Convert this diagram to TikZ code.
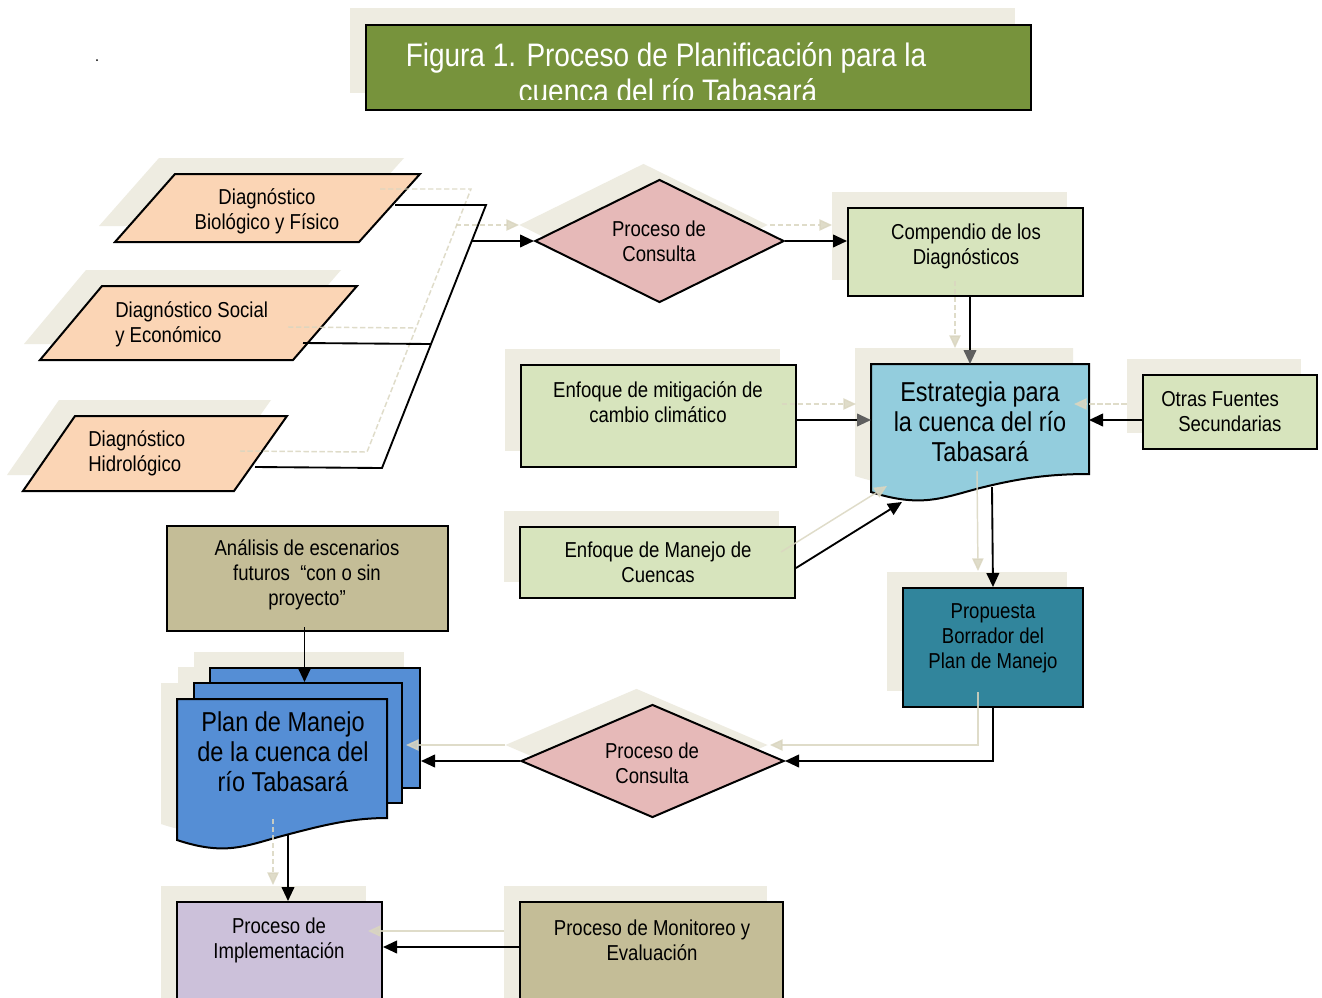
\documentclass[tikz,border=0pt]{standalone}
\usepackage{fontspec}
\setmainfont[FakeStretch=0.86]{Liberation Sans}
\usetikzlibrary{arrows.meta,shapes.geometric,shadows,calc}

\definecolor{cShade}{HTML}{EEECE1}
\definecolor{cGhost}{HTML}{DAD6C0}
\definecolor{cTitle}{HTML}{77933C}
\definecolor{cPeach}{HTML}{FBD5B5}
\definecolor{cRose}{HTML}{E6B9B8}
\definecolor{cSage}{HTML}{D7E4BD}
\definecolor{cSky}{HTML}{93CDDD}
\definecolor{cTeal}{HTML}{31859C}
\definecolor{cKhaki}{HTML}{C4BD97}
\definecolor{cCobalt}{HTML}{558ED5}
\definecolor{cLilac}{HTML}{CCC1DA}
\definecolor{cTip}{HTML}{5F5F5F}

\tikzset{
  body/.style={font=\fontsize{16.2pt}{18.75pt}\selectfont, align=center, inner sep=0pt, text=black},
  big/.style={font=\fontsize{20.5pt}{22.5pt}\selectfont, align=center, inner sep=0pt, text=black},
  titlefont/.style={font=\fontsize{24.4pt}{27.75pt}\selectfont, text=white, inner sep=0pt},
  shp/.style={draw=black, line width=1.5pt, line join=miter},
  shd/.style={general shadow={fill=cShade, shadow xshift=-12pt, shadow yshift=12pt}},
  box/.style 2 args={shp, rectangle, minimum width={#1*0.75pt}, minimum height={#2*0.75pt}, inner sep=0pt},
  wire/.style={line width=1.4pt},
  link/.style={wire, -{Triangle[length=10.5pt,width=9.5pt]}},
  linkg/.style={wire, -{Triangle[length=10.5pt,width=9.5pt,color=cTip]}},
  ghostline/.style={draw=cGhost, line width=1.1pt, opacity=0.85,
                    transform canvas={xshift=-11.25pt,yshift=12pt}},
  ghost/.style={ghostline, -{Triangle[length=9.5pt,width=8.5pt,color=cGhost]}},
  ghostdash/.style={ghost, dash pattern=on 4pt off 2pt},
}

\begin{document}
\begin{tikzpicture}[x=0.75pt,y=-0.75pt]
\useasboundingbox (0,0) rectangle (1322,997);
\clip (0,0) rectangle (1322,997);
\fill[white] (0,0) rectangle (1322,997);

% stray full stop at the top left
\fill (97,60) circle (1);

% ---------- title banner ----------
\node[box={665}{85}, fill=cTitle,
      general shadow={fill=cShade, shadow xshift=-12pt, shadow yshift=12.75pt}]
      (title) at (698.5,67.5) {};
\begin{scope}
  \clip (367,26) rectangle (1030,99.5);
  \node[titlefont, anchor=base] (title-a) at (666,66) {Figura 1. Proceso de Planificación para la};
  \node[titlefont, anchor=base] (title-b) at (668,102) {cuenca del río Tabasará};
\end{scope}

% ---------- diagnostics (parallelograms) ----------
\draw[shp, shd, fill=cPeach] (175,174) -- (420,174) -- (359,242) -- (115,242) -- cycle;
\node[body] (diag1) at (267,211.5) {Diagnóstico\\Biológico y Físico};

\draw[shp, shd, fill=cPeach] (102,286) -- (357,286) -- (293,360) -- (40,360) -- cycle;
\node[body, align=left, anchor=west] (diag2) at (115,324) {Diagnóstico Social\\y Económico};

\draw[shp, shd, fill=cPeach] (75,416) -- (287,416) -- (234,491) -- (23,491) -- cycle;
\node[body, align=left, anchor=west] (diag3) at (88,453.5) {Diagnóstico\\Hidrológico};

% ---------- first consultation and compendium ----------
\node[shp, shd, diamond, aspect=2, fill=cRose, inner sep=0pt,
      minimum width={249*0.75pt}, minimum height={123*0.75pt}] (d1) at (659.5,241) {};
\node[body] (d1-t) at (659,241) {Proceso de\\Consulta};

\node[box={235}{88}, shd, fill=cSage] (comp) at (965.5,252) {};
\node[body] (comp-t) at (966,246) {Compendio de los\\Diagnósticos};

% ---------- strategy (document shape) ----------
\draw[shp, shd, fill=cSky] (871,364) -- (1089,364) -- (1089,474)
  .. controls (1050,474) and (1020,478) .. (980,488)
  .. controls (942,498) and (921,508) .. (871,492) -- cycle;
\node[big] (est) at (980,422) {Estrategia para\\la cuenca del río\\Tabasará};
\coordinate (est-top) at (970,364);
\coordinate (est-l) at (871,420);
\coordinate (est-r) at (1089,420);
\coordinate (est-bl) at (902,502);
\coordinate (est-b) at (992,487);

\node[box={174}{74}, shd, fill=cSage] (ot) at (1229.5,412) {};
\node[body, align=left, anchor=west] (ot-t) at (1161,412) {Otras Fuentes\\\hspace*{12.75pt}Secundarias};

\node[box={275}{102}, shd, fill=cSage] (mit) at (658,416) {};
\node[body] (mit-t) at (658,402) {Enfoque de mitigación de\\cambio climático};

\node[box={275}{71}, shd, fill=cSage] (mc) at (657.5,562.5) {};
\node[body] (mc-t) at (658,562) {Enfoque de Manejo de\\Cuencas};

% ---------- draft plan and second consultation ----------
\node[box={180}{119}, shd, fill=cTeal] (prop) at (993,647.5) {};
\node[body] (prop-t) at (993,638.5) {Propuesta\\Borrador del\\Plan de Manejo};

\node[shp, shd, diamond, aspect=2, fill=cRose, inner sep=0pt,
      minimum width={263*0.75pt}, minimum height={113*0.75pt}] (d2) at (652.5,761) {};
\node[body] (d2-t) at (652,763) {Proceso de\\Consulta};

% ---------- scenarios ----------
\node[box={281}{105}, fill=cKhaki] (an) at (307.5,578.5) {};
\node[body] (an-t) at (307,575) {Análisis de escenarios\\futuros~~“con o sin\\proyecto”};

% ---------- management plan (stacked documents) ----------
\begin{scope}[shift={(-16,-16)}]
  \fill[cShade] (210,668) rectangle (420,788);
  \fill[cShade] (194,683) rectangle (402,803);
  \fill[cShade] (177,699) -- (387,699) -- (387,818)
    .. controls (350,818) and (320,826) .. (282,836)
    .. controls (245,846) and (225,856) .. (177,840) -- cycle;
\end{scope}
\node[box={210}{120}, fill=cCobalt] (pb) at (315,728) {};
\node[box={208}{120}, fill=cCobalt] (pm) at (298,743) {};
\draw[shp, fill=cCobalt] (177,699) -- (387,699) -- (387,818)
  .. controls (350,818) and (320,826) .. (282,836)
  .. controls (245,846) and (225,856) .. (177,840) -- cycle;
\node[big] (plan) at (283,752) {Plan de Manejo\\de la cuenca del\\río Tabasará};
\coordinate (plan-o) at (288,835);

% ---------- implementation and monitoring ----------
\node[box={205}{112}, shd, fill=cLilac] (impl) at (279.5,958) {};
\node[body] (impl-t) at (279,940) {Proceso de\\Implementación};

\node[box={263}{112}, shd, fill=cKhaki] (mon) at (651.5,958) {};
\node[body] (mon-t) at (652,940) {Proceso de Monitoreo y\\Evaluación};

% ---------- connector coordinates ----------
\coordinate (p1o) at (395,205);
\coordinate (p2o) at (303,343);
\coordinate (p3o) at (255,467);
\coordinate (bt) at (486,205);
\coordinate (bb) at (382,468);
\coordinate (bj) at (431,344);
\coordinate (bm) at (471,241);
\coordinate (mc-o) at ($(mc.east)+(0,5.5)$);
\coordinate (an-o) at ($(an.south)+(-3,-5)$);
\coordinate (row) at (0,947);

% ---------- faint connector shadows ----------
\draw[ghostline, dash pattern=on 4pt off 2pt] (p1o) -- (bt) -- (bb) -- (p3o);
\draw[ghostline, dash pattern=on 4pt off 2pt] (p2o) -- (bj);
\draw[ghostdash] (bm) -- (d1.west);
\draw[ghostdash] (d1.east) -- (d1.east -| comp.west);
\draw[ghostdash] (comp.south -| est-top) -- (est-top);
\draw[ghostdash] (mit.east |- est-l) -- (est-l);
\draw[ghostdash] (ot.west |- est-r) -- (est-r);
\draw[ghost] (mc-o) -- (est-bl);
\draw[ghost] (est-b) -- (prop.north);
\draw[ghost] (prop.south) -- (prop.south |- d2.east) -- (d2.east);
\draw[ghost] (d2.west) -- (d2.west -| pb.east);
\draw[ghostdash] (plan-o) -- (plan-o |- impl.north);
\draw[ghost] (mon.west |- row) -- (impl.east |- row);

% ---------- connectors ----------
\draw[wire] (p1o) -- (bt) -- (bb) -- (p3o);
\draw[wire] (p2o) -- (bj);
\draw[link] (bm) -- (d1.west);
\draw[link] (d1.east) -- (d1.east -| comp.west);
\draw[linkg] (comp.south -| est-top) -- (est-top);
\draw[linkg] (mit.east |- est-l) -- (est-l);
\draw[link] (ot.west |- est-r) -- (est-r);
\draw[link] (mc-o) -- (est-bl);
\draw[link] (est-b) -- (prop.north);
\draw[link] (prop.south) -- (prop.south |- d2.east) -- (d2.east);
\draw[link] (d2.west) -- (d2.west -| pb.east);
\draw[link] (an-o) -- (an-o |- pm.north);
\draw[link] (plan-o) -- (plan-o |- impl.north);
\draw[link] (mon.west |- row) -- (impl.east |- row);
\end{tikzpicture}
\end{document}
